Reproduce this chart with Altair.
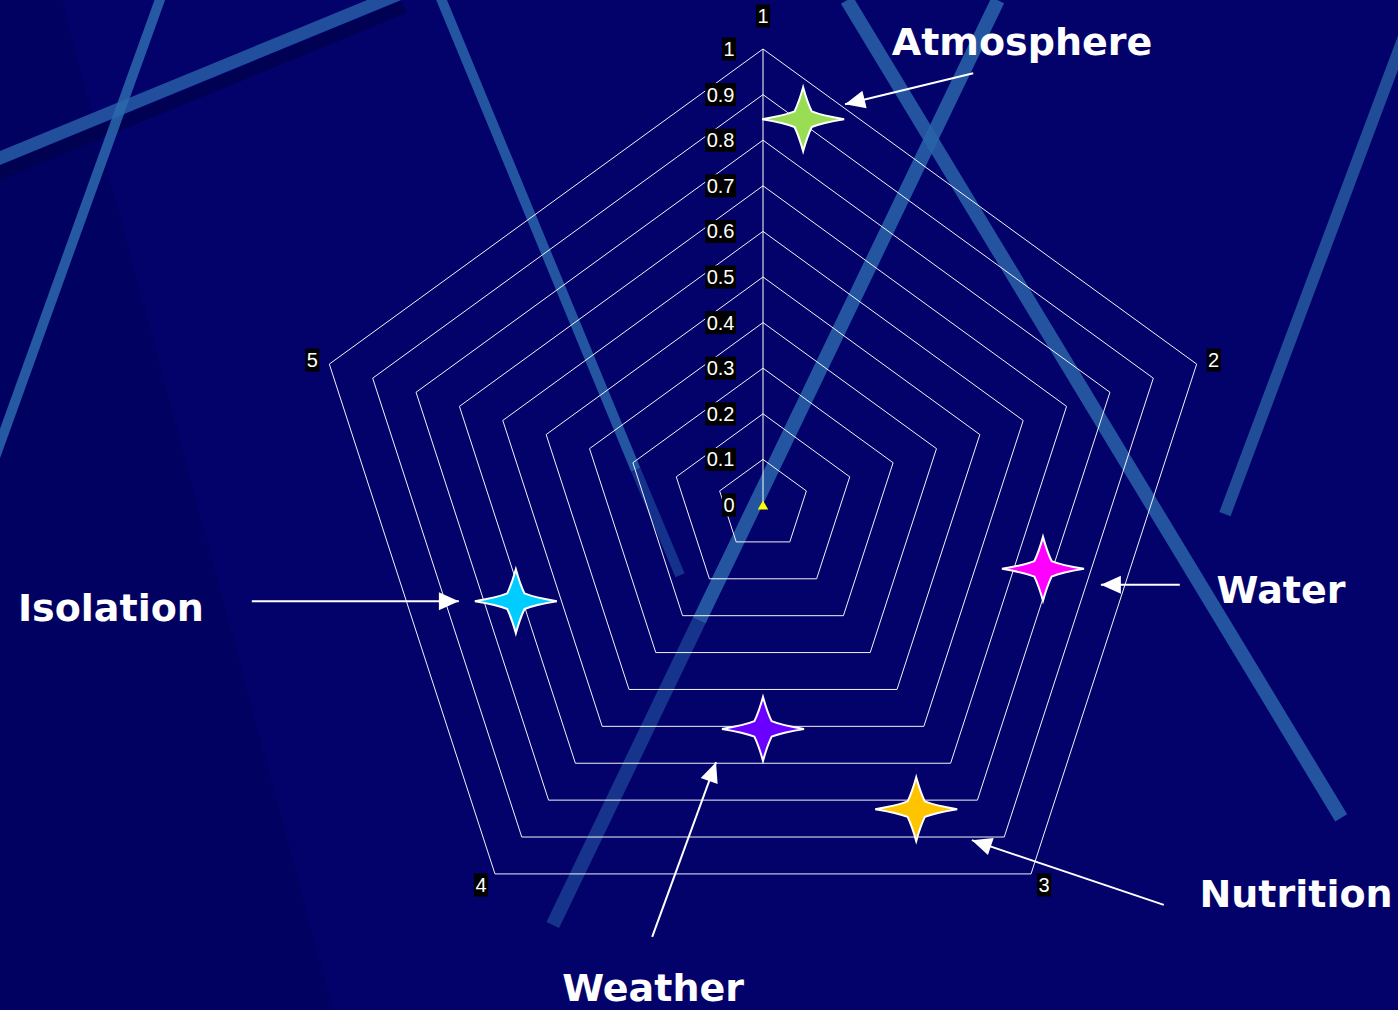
import math
import altair as alt
import pandas as pd

# Canvas and radar geometry (pixels)
W, H = 1398, 1010
CX, CY = 763, 505          # radar centre
R = 456                    # pixels per unit of radius

X_DOMAIN = [-CX / R, (W - CX) / R]
Y_DOMAIN = [-(H - CY) / R, CY / R]

BG = "#02026a"

# ---------------- data ----------------
categories = ["1", "2", "3", "4", "5"]
ring_levels = [0.1, 0.2, 0.3, 0.4, 0.5, 0.6, 0.7, 0.8, 0.9, 1.0]
tick_values = [0.0, 0.1, 0.2, 0.3, 0.4, 0.5, 0.6, 0.7, 0.8, 0.9, 1.0]
tick_labels = ["0", "0.1", "0.2", "0.3", "0.4", "0.5", "0.6", "0.7", "0.8", "0.9", "1"]

# Highlight stars, in radar units (x to the right, y up)
star_names = ["Atmosphere", "Water", "Nutrition", "Weather", "Isolation"]
star_x = [0.088, 0.614, 0.336, 0.000, -0.542]
star_y = [0.846, -0.140, -0.667, -0.491, -0.211]
star_colors = ["#99dd55", "#ff00ff", "#ffc400", "#6a00ff", "#00ccff"]

# Callout captions (centre x, baseline y) in radar units
caption_x = [0.568, 1.136, 1.169, -0.241, -1.430]
caption_y = [0.987, -0.215, -0.882, -1.088, -0.254]

# Callout arrows: tail -> tip, radar units
arrow_x0 = [0.461, 0.914, 0.879, -0.243, -1.121]
arrow_y0 = [0.947, -0.175, -0.877, -0.947, -0.211]
arrow_x1 = [0.180, 0.741, 0.458, -0.103, -0.667]
arrow_y1 = [0.879, -0.175, -0.735, -0.564, -0.211]

# Decorative streaks across the backdrop, radar units
streak_x0 = [-1.688, -1.70, -1.319, -0.71, -0.279, 0.184, 0.515, -0.140, 1.408]
streak_y0 = [0.722, 0.75, 1.118, 1.12, 0.077, 1.107, 1.107, -0.254, 1.033]
streak_x1 = [-0.788, -0.80, -1.684, -0.279, -0.182, 1.268, -0.140, -0.461, 1.013]
streak_y1 = [1.092, 1.12, 0.105, 0.077, -0.154, -0.686, -0.254, -0.921, -0.020]
streak_width = [13, 13, 10, 10, 10, 14, 14, 14, 12]
streak_color = ["#01014f", "#275da6", "#2c68ad", "#2a64aa", "#173b91",
                "#2a62a8", "#2a64aa", "#1a3d92", "#27599f"]

# Darker wash on the left of the backdrop, radar units
shade_y = [Y_DOMAIN[1] + 0.01, Y_DOMAIN[0] - 0.01]
shade_x2 = [-1.54, -0.94]

# Pixel offsets of the category labels from their vertices (right, down)
LABEL_OFFSETS = [(0, -33), (17, -4), (13, 11), (-14, 11), (-17, -4)]

# ---------------- helpers ----------------
xscale = alt.Scale(domain=X_DOMAIN, nice=False, zero=False)
yscale = alt.Scale(domain=Y_DOMAIN, nice=False, zero=False)


def X(field):
    return alt.X(f"{field}:Q", scale=xscale, axis=None)


def Y(field):
    return alt.Y(f"{field}:Q", scale=yscale, axis=None)


def vertex_angle(i):
    return math.radians(90 - 72 * (i % 5))


layers = []

# Left-hand darker wash
shade = pd.DataFrame({"y": shade_y, "x": [X_DOMAIN[0] - 0.01] * 2, "x2": shade_x2})
layers.append(
    alt.Chart(shade).mark_area(orient="horizontal", color="#00004f", opacity=0.28)
    .encode(y=Y("y"), x=X("x"), x2="x2:Q")
)

# Backdrop streaks
streaks = pd.DataFrame({"x": streak_x0, "y": streak_y0, "x2": streak_x1, "y2": streak_y1,
                        "w": streak_width, "c": streak_color,
                        "k": list(range(len(streak_x0)))})
layers.append(
    alt.Chart(streaks).mark_rule(strokeCap="butt", opacity=0.85)
    .encode(x=X("x"), y=Y("y"), x2="x2:Q", y2="y2:Q",
            color=alt.Color("c:N", scale=None),
            strokeWidth=alt.StrokeWidth("w:Q", scale=None),
            detail="k:N")
)

# Pentagon rings
ring_rows = []
for lvl in ring_levels:
    for i in range(6):
        a = vertex_angle(i)
        ring_rows.append({"ring": lvl, "ord": i,
                          "x": lvl * math.cos(a), "y": lvl * math.sin(a)})
rings = pd.DataFrame(ring_rows)
layers.append(
    alt.Chart(rings).mark_line(color="white", strokeWidth=1, opacity=0.95)
    .encode(x=X("x"), y=Y("y"), detail="ring:N", order="ord:Q")
)

# Value axis spoke
spoke = pd.DataFrame({"x": [0.0], "y": [0.0], "y2": [1.0]})
layers.append(
    alt.Chart(spoke).mark_rule(color="white", strokeWidth=1)
    .encode(x=X("x"), y=Y("y"), y2="y2:Q")
)

# Data marker at the origin
origin = pd.DataFrame({"x": [0.0], "y": [0.0]})
layers.append(
    alt.Chart(origin).mark_point(shape="triangle-up", size=110, filled=True,
                                 color="#ffff00", opacity=1)
    .encode(x=X("x"), y=Y("y"))
)


def label_width(s):
    return 3 + sum(5.6 if ch == "." else 11.1 for ch in s)


# Value tick labels with black boxes
tick_rows = []
for v, s in zip(tick_values, tick_labels):
    right = -27 / R
    w = label_width(s)
    tick_rows.append({"v": v, "label": s,
                      "bx": right - w / R, "bx2": right,
                      "by": v - 11.5 / R, "by2": v + 11.5 / R,
                      "tx": right - 1.5 / R})
ticks = pd.DataFrame(tick_rows)
layers.append(
    alt.Chart(ticks).mark_rect(color="black")
    .encode(x=X("bx"), x2="bx2:Q", y=Y("by"), y2="by2:Q")
)
layers.append(
    alt.Chart(ticks).mark_text(color="white", font="Liberation Sans", fontSize=20,
                               align="right", baseline="middle", dy=1)
    .encode(x=X("tx"), y=Y("v"), text="label:N")
)

# Category labels beside the pentagon vertices
cat_rows = []
for i, c in enumerate(categories):
    a = vertex_angle(i)
    ox, oy = LABEL_OFFSETS[i]
    cx = math.cos(a) + ox / R
    cy = math.sin(a) - oy / R
    w = label_width(c)
    cat_rows.append({"label": c, "x": cx, "y": cy,
                     "bx": cx - w / 2 / R, "bx2": cx + w / 2 / R,
                     "by": cy - 11.5 / R, "by2": cy + 11.5 / R})
cats = pd.DataFrame(cat_rows)
layers.append(
    alt.Chart(cats).mark_rect(color="black")
    .encode(x=X("bx"), x2="bx2:Q", y=Y("by"), y2="by2:Q")
)
layers.append(
    alt.Chart(cats).mark_text(color="white", font="Liberation Sans", fontSize=20,
                              align="center", baseline="middle", dy=1)
    .encode(x=X("x"), y=Y("y"), text="label:N")
)

# Callout arrows
arrows = pd.DataFrame({"name": star_names, "x": arrow_x0, "y": arrow_y0,
                       "x2": arrow_x1, "y2": arrow_y1})
head_len = 20
head_rows = []
for n, x0, y0, x1, y1 in zip(star_names, arrow_x0, arrow_y0, arrow_x1, arrow_y1):
    dx, dy = x1 - x0, y1 - y0
    norm = math.hypot(dx, dy)
    ux, uy = dx / norm, dy / norm
    ang = math.degrees(math.atan2(ux, uy)) % 360
    head_rows.append({"name": n,
                      "x": x1 - (head_len / 2 / R) * ux,
                      "y": y1 - (head_len / 2 / R) * uy,
                      "angle": ang})
heads = pd.DataFrame(head_rows)
layers.append(
    alt.Chart(arrows).mark_rule(color="white", strokeWidth=2)
    .encode(x=X("x"), y=Y("y"), x2="x2:Q", y2="y2:Q")
)
layers.append(
    alt.Chart(heads).mark_point(shape="M0,-1L0.9,1L-0.9,1Z", size=head_len ** 2,
                                filled=True, color="white", opacity=1)
    .encode(x=X("x"), y=Y("y"), angle=alt.Angle("angle:Q", scale=None))
)

# Four-pointed stars: long horizontal arms, shorter vertical ones
STAR = ("M1,0 Q0.45,0.09 0.21,0.19 Q0.10,0.42 0,0.78 "
        "Q-0.10,0.42 -0.21,0.19 Q-0.45,0.09 -1,0 "
        "Q-0.45,-0.09 -0.21,-0.19 Q-0.10,-0.42 0,-0.78 "
        "Q0.10,-0.42 0.21,-0.19 Q0.45,-0.09 1,0 Z")
stars = pd.DataFrame({"name": star_names, "x": star_x, "y": star_y, "color": star_colors})
layers.append(
    alt.Chart(stars).mark_point(shape=STAR, size=82 ** 2, filled=True, opacity=1,
                                stroke="white", strokeWidth=2)
    .encode(x=X("x"), y=Y("y"), fill=alt.Fill("color:N", scale=None))
)

# Captions
captions = pd.DataFrame({"name": star_names, "x": caption_x, "y": caption_y})
layers.append(
    alt.Chart(captions).mark_text(color="white", font="DejaVu Sans", fontWeight="bold",
                                  fontSize=38, align="center", baseline="alphabetic")
    .encode(x=X("x"), y=Y("y"), text="name:N")
)

chart = (
    alt.layer(*layers)
    .properties(width=W, height=H, padding=0, autosize=alt.AutoSizeParams(type="none"),
                background=BG)
    .configure_view(stroke=None, fill=BG)
)

chart.save("out.html", embed_options={"renderer": "svg", "actions": False})
